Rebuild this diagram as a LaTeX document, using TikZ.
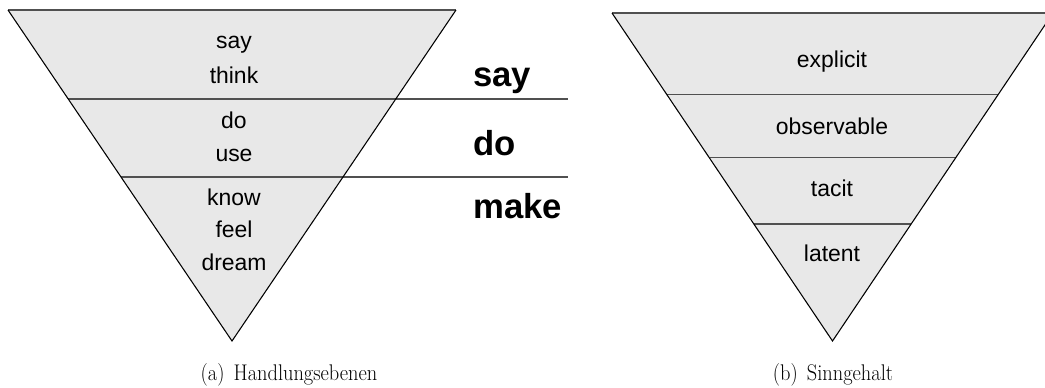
\documentclass[tikz,border=0pt]{standalone}
\usepackage{fontspec}
\newfontfamily\arialfont{Liberation Sans}
\definecolor{trifill}{HTML}{E8E8E8}
\definecolor{divline}{HTML}{505050}
\tikzset{
  tri/.style={fill=trifill, draw=black, line width=0.8pt, line join=miter},
  divider/.style={draw=divline, line width=1.25pt},
  small/.style={font=\arialfont\fontsize{17.2}{20}\selectfont, anchor=base, inner sep=0pt},
  big/.style={font=\arialfont\bfseries\fontsize{26}{30}\selectfont, anchor=base west, inner sep=0pt},
  capt/.style={font=\fontsize{17}{20}\selectfont, anchor=base, inner sep=0pt}
}
\begin{document}
\begin{tikzpicture}[x=0.75pt,y=-0.75pt]
\useasboundingbox (0,0) rectangle (1045,387);
\clip (0,0) rectangle (1045,387);
% ---------- left triangle ----------
\coordinate (La) at (8,10);
\coordinate (Lb) at (456,10);
\coordinate (Lc) at (232,341);
\fill[trifill] (La) -- (Lb) -- (Lc) -- cycle;
\coordinate (L1a) at (68,99);
\coordinate (L1b) at (568,99);
\coordinate (L2a) at (121,177);
\coordinate (L2b) at (568,177);
\draw[divider] (L1a) -- (L1b);
\draw[divider] (L2a) -- (L2b);
\draw[divider] (La) -- (Lb);
\draw[black, line width=0.8pt] (La) -- (Lc) -- (Lb);
\node[small] (tsay) at (234,48) {say};
\node[small] (tthink) at (234,83) {think};
\node[small] (tdo) at (234,128) {do};
\node[small] (tuse) at (234,161) {use};
\node[small] (tknow) at (234,205) {know};
\node[small] (tfeel) at (234,237) {feel};
\node[small] (tdream) at (234,270) {dream};
\node[big] (bsay) at (473,86) {say};
\node[big] (bdo) at (473,155) {do};
\node[big] (bmake) at (473,218) {make};
\node[capt] (capa) at (289,380) {\scalebox{0.9}[1]{(a)\hspace{0.45em}Handlungsebenen}};
% ---------- right triangle ----------
\coordinate (Ra) at (612,13);
\coordinate (Rb) at (1053,13);
\coordinate (Rc) at (832.5,341);
\fill[trifill] (Ra) -- (Rb) -- (Rc) -- cycle;
\coordinate (R1a) at (667,94.5);
\coordinate (R1b) at (998,94.5);
\coordinate (R2a) at (709.5,157.5);
\coordinate (R2b) at (955.5,157.5);
\coordinate (R3a) at (754,224);
\coordinate (R3b) at (911,224);
\draw[divider] (R1a) -- (R1b);
\draw[divider] (R2a) -- (R2b);
\draw[divider] (R3a) -- (R3b);
\draw[divider] (Ra) -- (Rb);
\draw[black, line width=0.8pt] (Ra) -- (Rc) -- (Rb);
\node[small] (texplicit) at (832,67) {explicit};
\node[small] (tobs) at (832,134) {observable};
\node[small] (ttacit) at (832,196) {tacit};
\node[small] (tlatent) at (832,261) {latent};
\node[capt] (capb) at (833,380) {\scalebox{0.9}[1]{(b)\hspace{0.45em}Sinngehalt}};
\end{tikzpicture}
\end{document}
